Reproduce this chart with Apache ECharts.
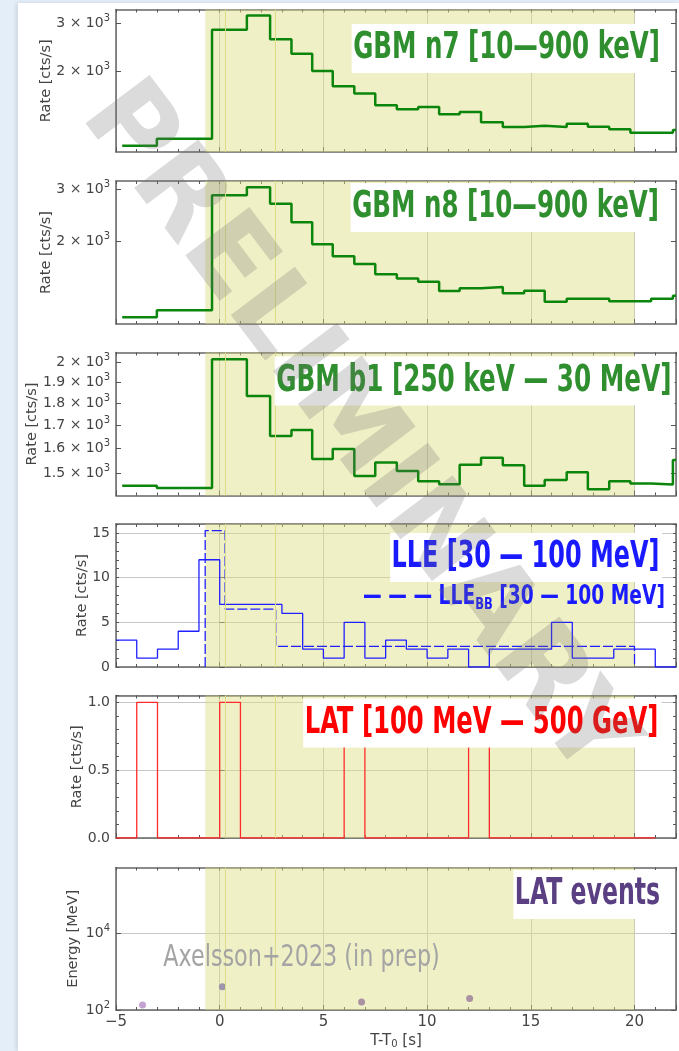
<!DOCTYPE html>
<html><head><meta charset="utf-8">
<script src="https://cdn.jsdelivr.net/npm/echarts@6/dist/echarts.min.js"></script>
<style>
html,body{margin:0;padding:0;background:#e4eef8;}
#card{position:absolute;left:18px;top:3px;width:661px;height:1048px;background:#fff;box-shadow:-2px 0 4px rgba(0,0,0,0.10);}
#chart{position:absolute;left:0;top:0;width:679px;height:1051px;}
</style></head>
<body><div id="card"></div><div id="chart"></div>
<script>
// ---------------- data ----------------
const gbmEdges = [-4.7, -3.03, -0.37, 1.31, 2.43, 3.46, 4.46, 5.45, 6.49, 7.5, 8.54, 9.57, 10.58, 11.57, 12.6, 13.65, 14.68, 15.67, 16.73, 17.75, 18.78, 19.8, 20.8, 21.85, 22];
const n7Rate = [1060, 1125, 2842, 3212, 2626, 2317, 2000, 1756, 1654, 1494, 1444, 1473, 1384, 1411, 1293, 1243, 1256, 1243, 1278, 1246, 1218, 1184, 1184, 1212];
const n8Rate = [1103, 1164, 2857, 3041, 2676, 2314, 1949, 1774, 1671, 1542, 1491, 1456, 1353, 1382, 1397, 1329, 1357, 1245, 1275, 1275, 1249, 1249, 1275, 1305];
const b1Rate = [1453, 1445, 2016, 1834, 1653, 1679, 1557, 1598, 1490, 1543, 1510, 1470, 1459, 1534, 1562, 1532, 1453, 1475, 1505, 1440, 1470, 1462, 1458, 1553];
const lleEdges = [-5,-4,-3,-2,-1,0,1,2,3,4,5,6,7,8,9,10,11,12,13,14,15,16,17,18,19,20,21,22];
const lleRate = [3,1,2,4,12,7,7,7,6,2,1,5,1,3,2,1,2,0,2,2,2,5,1,1,2,2,0];
const lleBBEdges = [-0.7, 0.26, 2.7, 20];
const lleBBRate = [15.26, 6.48, 2.3];
const latEdges = [-5,-4,-3,-2,-1,0,1,2,3,4,5,6,7,8,9,10,11,12,13,14,15,16,17,18,19,20,21];
const latRate = [0,1,0,0,0,1,0,0,0,0,0,1,0,0,0,0,0,1,0,0,0,0,0,0,0,0];
const eventTime = [-3.72, 0.13, 6.84, 12.05];
const eventEnergy = [135, 405, 161, 198];
const shadeRange = [-0.7, 20];
const blockEdges = [0.26, 2.7];
const xTicks = [-5, 0, 5, 10, 15, 20];
const n7Ticks = [2000, 3000];
const n8Ticks = [2000, 3000];
const b1Ticks = [1500, 1600, 1700, 1800, 1900, 2000];
const lleTicks = [0, 5, 10, 15];
const latTicks = [0, 0.5, 1.0];
const eventTicks = [100, 10000];

// ---------------- styling ----------------
const FONT = '"DejaVu Sans", sans-serif';
const ANN = '"DejaVu Sans Condensed", "DejaVu Sans", sans-serif';
const frameColor = '#666';
const tickColor = '#555';
const labelColor = '#444';
const gridColor = '#c6c6c6';
const green = '#0b850b';
const eventColors = ['#b58cc4', '#8a80a8', '#9a7a9a', '#9a7a9a'];

function stepData(edges, vals) {
  const d = vals.map((v, i) => [edges[i], v]);
  d.push([edges[edges.length - 1], vals[vals.length - 1]]);
  return d;
}
function gbmLabel(v) { const m = Math.round(v / 100) / 10; return '{m|' + m + ' \u00d7 10}{e|3}'; }
function powLabel(v) { return '{m|10}{e|' + Math.round(Math.log10(v)) + '}'; }
const richSup = {
  m: { fontSize: 14, fontFamily: FONT, color: labelColor },
  e: { fontSize: 10, fontFamily: FONT, color: labelColor, padding: [0, 0, 10, 0] }
};

const tops = [9.5, 181, 352.5, 524, 695.5, 867.5];
const heights = [142.5, 143, 143, 143, 142.5, 142.5];
const grids = tops.map((t, i) => ({ left: 116, width: 560, top: t, height: heights[i], show: false }));

const yCfg = [
  { type: 'log', min: 1004, max: 3380, ticks: n7Ticks, fmt: gbmLabel, name: 'Rate [cts/s]', gap: 62 },
  { type: 'log', min: 1046, max: 3194, ticks: n8Ticks, fmt: gbmLabel, name: 'Rate [cts/s]', gap: 62 },
  { type: 'log', min: 1417, max: 2052, ticks: b1Ticks, fmt: gbmLabel, name: 'Rate [cts/s]', gap: 76 },
  { type: 'value', min: 0, max: 16, minor: 1, major: 5, ticks: lleTicks, fmt: v => String(v), name: 'Rate [cts/s]', gap: 26 },
  { type: 'value', min: 0, max: 1.05, minor: 0.1, major: 0.5, ticks: latTicks, fmt: v => v.toFixed(1), name: 'Rate [cts/s]', gap: 31 },
  { type: 'log', min: 100, max: 510000, ticks: eventTicks, fmt: powLabel, name: 'Energy [MeV]', gap: 35, split: true }
];

const xAxes = [], yAxes = [], xi = [], yi = [];
const lineFrame = { show: true, onZero: false, lineStyle: { color: frameColor, width: 1.5 } };
grids.forEach((g, i) => {
  const last = i === grids.length - 1;
  xi.push(xAxes.length);
  xAxes.push({
    gridIndex: i, type: 'value', min: -5, max: 22, interval: 1, position: 'bottom',
    axisLine: lineFrame,
    axisTick: { show: true, inside: true, length: 3, lineStyle: { color: tickColor } },
    axisLabel: {
      show: last, customValues: xTicks, margin: 5, fontSize: 15, color: labelColor, fontFamily: FONT,
      formatter: v => (Math.abs(v % 5) > 1e-9 || v > 20) ? '' : (v < 0 ? '\u2212' + (-v) : String(v))
    },
    splitLine: { show: false },
    name: last ? '{a|T-T}{s|0}{a| [s]}' : '', nameLocation: 'middle', nameGap: 23, nameMoveOverlap: false,
    nameTextStyle: { rich: { a: { fontSize: 15, color: labelColor, fontFamily: FONT }, s: { fontSize: 10, color: labelColor, fontFamily: FONT, padding: [6, 0, 0, 0] } } }
  });
  xAxes.push({
    gridIndex: i, type: 'value', min: -5, max: 22, interval: 1, position: 'top',
    axisLine: lineFrame,
    axisTick: { show: true, inside: true, length: 3, lineStyle: { color: tickColor } },
    axisLabel: { show: false }, splitLine: { show: false }
  });
  xAxes.push({
    gridIndex: i, type: 'value', min: -5, max: 22, interval: 5, position: 'bottom',
    axisLine: { show: false },
    axisTick: { show: true, inside: true, length: 5, lineStyle: { color: tickColor } },
    axisLabel: { show: false },
    splitLine: { show: true, lineStyle: { color: gridColor, width: 1 } }
  });

  const c = yCfg[i];
  const base = { gridIndex: i, type: c.type, min: c.min, max: c.max };
  if (c.type === 'log') base.logBase = 10; else base.interval = c.minor;
  const tick = c.type === 'log'
    ? { show: true, inside: true, length: 5, customValues: c.ticks, lineStyle: { color: tickColor } }
    : { show: true, inside: true, length: 3, lineStyle: { color: tickColor } };
  yi.push(yAxes.length);
  yAxes.push(Object.assign({}, base, {
    position: 'left', axisLine: lineFrame, axisTick: tick,
    axisLabel: { show: true, customValues: c.ticks, formatter: c.fmt, rich: richSup, margin: 6, color: labelColor, fontSize: 14, fontFamily: FONT },
    splitLine: { show: !!c.split, lineStyle: { color: gridColor, width: 1 } },
    name: c.name, nameLocation: 'middle', nameGap: c.gap, nameMoveOverlap: false,
    nameTextStyle: { fontSize: 14.5, color: labelColor, fontFamily: FONT }
  }));
  yAxes.push(Object.assign({}, base, {
    position: 'right', axisLine: lineFrame, axisTick: tick,
    axisLabel: { show: false }, splitLine: { show: false }
  }));
  if (c.type === 'value') {
    yAxes.push({
      gridIndex: i, type: 'value', min: c.min, max: c.max, interval: c.major, position: 'left',
      axisLine: { show: false },
      axisTick: { show: true, inside: true, length: 5, lineStyle: { color: tickColor } },
      axisLabel: { show: false },
      splitLine: { show: true, lineStyle: { color: gridColor, width: 1 } }
    });
  }
});

const marks = {
  markArea: { silent: true, itemStyle: { color: 'rgba(222,222,128,0.45)' }, data: [[{ xAxis: shadeRange[0] }, { xAxis: shadeRange[1] }]] },
  markLine: { silent: true, symbol: 'none', animation: false, label: { show: false },
    lineStyle: { color: '#dcdc88', width: 1, type: 'solid' }, data: blockEdges.map(x => ({ xAxis: x })) }
};

const bbData = stepData(lleBBEdges, lleBBRate);
bbData.unshift([lleBBEdges[0], 0]);
bbData.push([lleBBEdges[lleBBEdges.length - 1], 0]);

const series = [
  Object.assign({ type: 'line', xAxisIndex: xi[0], yAxisIndex: yi[0], step: 'end', symbol: 'none', data: stepData(gbmEdges, n7Rate), lineStyle: { color: green, width: 2.5 }, z: 3 }, marks),
  Object.assign({ type: 'line', xAxisIndex: xi[1], yAxisIndex: yi[1], step: 'end', symbol: 'none', data: stepData(gbmEdges, n8Rate), lineStyle: { color: green, width: 2.5 }, z: 3 }, marks),
  Object.assign({ type: 'line', xAxisIndex: xi[2], yAxisIndex: yi[2], step: 'end', symbol: 'none', data: stepData(gbmEdges, b1Rate), lineStyle: { color: green, width: 2.5 }, z: 3 }, marks),
  Object.assign({ type: 'line', xAxisIndex: xi[3], yAxisIndex: yi[3], step: 'end', symbol: 'none', data: stepData(lleEdges, lleRate), lineStyle: { color: '#1f1fff', width: 1.3 }, z: 3 }, marks),
  { type: 'line', xAxisIndex: xi[3], yAxisIndex: yi[3], step: 'end', symbol: 'none', data: bbData, lineStyle: { color: '#1f1fff', width: 1.3, type: [10, 3] }, z: 3 },
  Object.assign({ type: 'line', xAxisIndex: xi[4], yAxisIndex: yi[4], step: 'end', symbol: 'none', data: stepData(latEdges, latRate), lineStyle: { color: '#ff2a2a', width: 1.3 }, z: 3 }, marks),
  Object.assign({ type: 'scatter', xAxisIndex: xi[5], yAxisIndex: yi[5], symbolSize: 7, data: eventTime.map((t, k) => [t, eventEnergy[k]]),
    itemStyle: { color: p => eventColors[p.dataIndex] }, z: 3 }, marks)
];

function ann(text, x, y, color, size, sx, bg, extra) {
  return {
    type: 'text', x: x, y: y, scaleX: sx, z: 50,
    style: Object.assign({
      text: text, fill: color, fontSize: size, fontWeight: 'bold', fontFamily: ANN,
      align: 'right', textAlign: 'right', verticalAlign: 'middle', textVerticalAlign: 'middle',
      backgroundColor: bg ? '#ffffff' : null, padding: bg ? [6, 4, 6, 2] : 0
    }, extra || {})
  };
}

const graphic = [
  ann('GBM n7 [10\u2014900 keV]', 663, 48.5, '#2f8f2f', 37, 0.737, true),
  ann('GBM n8 [10\u2014900 keV]', 662, 207.5, '#2f8f2f', 37, 0.737, true),
  ann('GBM b1 [250 keV \u2014 30 MeV]', 674.5, 381, '#2f8f2f', 37, 0.742, true),
  ann('LLE [30 \u2014 100 MeV]', 662.3, 557.5, '#1a1aff', 37, 0.719, true),
  ann('{d|\u2014 \u2014 \u2014} {t|LLE}{s|BB}{t| [30 \u2014 100 MeV]}', 665, 597.5, '#1a1aff', 26, 0.798, false, {
    rich: {
      d: { fill: '#1a1aff', fontSize: 26, fontWeight: 'bold', fontFamily: ANN },
      t: { fill: '#1a1aff', fontSize: 26, fontWeight: 'bold', fontFamily: ANN },
      s: { fill: '#1a1aff', fontSize: 16, fontWeight: 'bold', fontFamily: ANN, padding: [14, 0, 0, 0] }
    }
  }),
  ann('LAT [100 MeV \u2014 500 GeV]', 661.3, 723, '#ff0000', 37, 0.730, true),
  ann('LAT events', 663, 894.5, '#5a3f82', 37, 0.71, true),
  ann('Axelsson+2023 (in prep)', 163.3, 958, '#a4a4a4', 30, 0.826, false, { fontWeight: 'normal', align: 'left', textAlign: 'left' }),
  {
    type: 'text', x: 355, y: 432, rotation: -0.923, z: 100, silent: true,
    style: { text: 'PRELIMINARY', fill: 'rgba(110,110,110,0.25)', fontSize: 110, fontWeight: 'bold', fontFamily: FONT,
      align: 'center', textAlign: 'center', verticalAlign: 'middle', textVerticalAlign: 'middle' }
  }
];

const chart = echarts.init(document.getElementById('chart'), null, { renderer: 'canvas' });
chart.setOption({
  animation: false,
  backgroundColor: 'transparent',
  textStyle: { fontFamily: FONT },
  grid: grids,
  xAxis: xAxes,
  yAxis: yAxes,
  series: series,
  graphic: graphic
});
</script>
</body></html>
